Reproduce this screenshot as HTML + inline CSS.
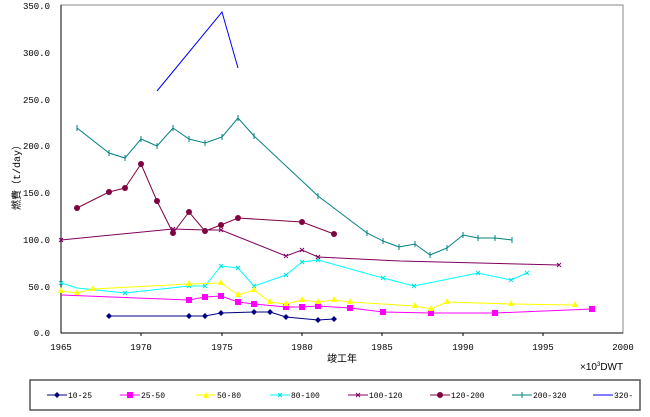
<!DOCTYPE html>
<html><head><meta charset="utf-8"><style>
body{margin:0;background:#fff;}
svg{display:block;font-family:"Liberation Mono","Noto Sans CJK JP",monospace;}
</style></head><body>
<svg width="650" height="417" viewBox="0 0 650 417" xmlns="http://www.w3.org/2000/svg">
<rect x="61" y="5" width="562" height="328" fill="#fff" stroke="#888" stroke-width="1"/>
<line x1="61" y1="5" x2="61" y2="333" stroke="#000"/>
<line x1="61" y1="333" x2="623" y2="333" stroke="#000"/>
<g stroke="#000">
<line x1="141" y1="333" x2="141" y2="336"/><line x1="222" y1="333" x2="222" y2="336"/><line x1="302" y1="333" x2="302" y2="336"/><line x1="382" y1="333" x2="382" y2="336"/><line x1="463" y1="333" x2="463" y2="336"/><line x1="543" y1="333" x2="543" y2="336"/>
</g>
<g font-size="9" text-anchor="end" fill="#000">
<text x="50" y="9">350.0</text><text x="50" y="56">300.0</text><text x="50" y="103">250.0</text><text x="50" y="149">200.0</text><text x="50" y="196">150.0</text><text x="50" y="243">100.0</text><text x="50" y="290">50.0</text><text x="50" y="336">0.0</text>
</g>
<g font-size="9" text-anchor="middle" fill="#000">
<text x="61" y="350">1965</text><text x="141" y="350">1970</text><text x="222" y="350">1975</text><text x="302" y="350">1980</text><text x="382" y="350">1985</text><text x="463" y="350">1990</text><text x="543" y="350">1995</text><text x="623" y="350">2000</text>
<text x="342" y="362" font-size="10">竣工年</text>
</g>
<text x="20" y="175" font-size="10" transform="rotate(-90 20 175)" text-anchor="middle">燃費（t/day）</text>
<text x="580" y="370" font-size="10" font-family="Liberation Sans,sans-serif">×10<tspan font-size="6" dy="-4">3</tspan><tspan dy="4">DWT</tspan></text>
<g fill="none" stroke-width="1">
<polyline stroke="#0000ff" points="157,91 222,12 238,68"/>
<polyline stroke="#008080" points="77,128 109,153 125,158 141,139 157,146 173,128 189,139 205,143 222,137 238,118 254,136 318,196 367,233 383,241 399,247 415,244 430,255 447,248 463,235 478,238 495,238 512,240"/>
<polyline stroke="#800040" points="77,208 109,192 125,188 141,164 157,201 173,233 189,212 205,231 221,225 238,218 302,222 334,234"/>
<polyline stroke="#800060" points="61,240 173,229 205,230 221,230 286,256 302,250 318,257 400,261 559,265"/>
<polyline stroke="#00ffff" points="61,283 77,288 125,293 189,286 205,286 221,266 238,268 254,286 286,275 302,262 318,260 383,278 414,286 478,273 511,280 527,273"/>
<polyline stroke="#ffff00" points="61,291 77,293 93,289 189,284 221,283 238,295 254,290 270,302 286,304 302,300 318,302 334,300 350,302 415,306 431,309 447,302 511,304 575,305"/>
<polyline stroke="#ff00ff" points="61,295 189,300 205,297 221,296 238,302 254,304 286,307 302,307 318,306 350,308 383,312 431,313 495,313 592,309"/>
<polyline stroke="#000080" points="109,316 205,316 221,313 254,312 270,312 286,317 318,320 334,319"/>
</g>
<g stroke="#008080" stroke-width="1">
<path d="M77,125v6M109,150v6M125,155v6M141,136v6M157,143v6M173,125v6M189,136v6M205,140v6M222,134v6M238,115v6M254,133v6M318,193v6M367,230v6M383,238v6M399,244v6M415,241v6M430,252v6M447,245v6M463,232v6M478,235v6M495,235v6M512,237v6"/>
</g>
<g stroke="#00e0e0" stroke-width="1">
<path d="M59,281l4,4M63,281l-4,4 M123,291l4,4M127,291l-4,4 M187,284l4,4M191,284l-4,4 M203,284l4,4M207,284l-4,4 M219,264l4,4M223,264l-4,4 M236,266l4,4M240,266l-4,4 M252,284l4,4M256,284l-4,4 M284,273l4,4M288,273l-4,4 M300,260l4,4M304,260l-4,4 M316,258l4,4M320,258l-4,4 M381,276l4,4M385,276l-4,4 M412,284l4,4M416,284l-4,4 M476,271l4,4M480,271l-4,4 M509,278l4,4M513,278l-4,4 M525,271l4,4M529,271l-4,4"/>
</g>
<g stroke="#800060" stroke-width="1">
<path d="M59,238l4,4M63,238l-4,4 M171,227l4,4M175,227l-4,4 M219,228l4,4M223,228l-4,4 M284,254l4,4M288,254l-4,4 M300,248l4,4M304,248l-4,4 M316,255l4,4M320,255l-4,4 M557,263l4,4M561,263l-4,4"/>
</g>
<g fill="#800040">
<circle cx="77" cy="208" r="3"/><circle cx="109" cy="192" r="3"/><circle cx="125" cy="188" r="3"/><circle cx="141" cy="164" r="3"/><circle cx="157" cy="201" r="3"/><circle cx="173" cy="233" r="3"/><circle cx="189" cy="212" r="3"/><circle cx="205" cy="231" r="3"/><circle cx="221" cy="225" r="3"/><circle cx="238" cy="218" r="3"/><circle cx="302" cy="222" r="3"/><circle cx="334" cy="234" r="3"/>
</g>
<g fill="#ff00ff">
<rect x="186" y="297" width="6" height="6"/><rect x="202" y="294" width="6" height="6"/><rect x="218" y="293" width="6" height="6"/><rect x="235" y="299" width="6" height="6"/><rect x="251" y="301" width="6" height="6"/><rect x="283" y="304" width="6" height="6"/><rect x="299" y="304" width="6" height="6"/><rect x="315" y="303" width="6" height="6"/><rect x="347" y="305" width="6" height="6"/><rect x="380" y="309" width="6" height="6"/><rect x="428" y="310" width="6" height="6"/><rect x="492" y="310" width="6" height="6"/><rect x="589" y="306" width="6" height="6"/>
</g>
<g fill="#ffff00">
<path d="M61,287 l3,6 h-6z M77,289 l3,6 h-6z M93,285 l3,6 h-6z M189,280 l3,6 h-6z M221,279 l3,6 h-6z M238,291 l3,6 h-6z M254,286 l3,6 h-6z M270,298 l3,6 h-6z M286,300 l3,6 h-6z M302,296 l3,6 h-6z M318,298 l3,6 h-6z M334,296 l3,6 h-6z M350,298 l3,6 h-6z M415,302 l3,6 h-6z M431,305 l3,6 h-6z M447,298 l3,6 h-6z M511,300 l3,6 h-6z M575,301 l3,6 h-6z"/>
</g>
<g fill="#000080">
<path d="M109,313 l3,3 l-3,3 l-3,-3z M189,313 l3,3 l-3,3 l-3,-3z M205,313 l3,3 l-3,3 l-3,-3z M221,310 l3,3 l-3,3 l-3,-3z M254,309 l3,3 l-3,3 l-3,-3z M270,309 l3,3 l-3,3 l-3,-3z M286,314 l3,3 l-3,3 l-3,-3z M318,317 l3,3 l-3,3 l-3,-3z M334,316 l3,3 l-3,3 l-3,-3z"/>
</g>
<rect x="30" y="380" width="610" height="30" fill="#fff" stroke="#555" stroke-width="1.5"/>
<g font-size="8" fill="#000">
<line x1="47" y1="395" x2="67" y2="395" stroke="#000080"/><path d="M57,392 l3,3 l-3,3 l-3,-3z" fill="#000080"/><text x="68" y="398">10-25</text>
<line x1="120" y1="395" x2="140" y2="395" stroke="#ff00ff"/><rect x="127" y="392" width="6" height="6" fill="#ff00ff"/><text x="141" y="398">25-50</text>
<line x1="196" y1="395" x2="216" y2="395" stroke="#ffff00"/><path d="M206,392 l3,6 h-6z" fill="#ffff00"/><text x="217" y="398">50-80</text>
<line x1="270" y1="395" x2="290" y2="395" stroke="#00ffff"/><path d="M278,393l4,4M282,393l-4,4" stroke="#00e0e0"/><text x="291" y="398">80-100</text>
<line x1="348" y1="395" x2="368" y2="395" stroke="#800060"/><path d="M356,393l4,4M360,393l-4,4" stroke="#800060"/><text x="369" y="398">100-120</text>
<line x1="430" y1="395" x2="450" y2="395" stroke="#800040"/><circle cx="440" cy="395" r="3" fill="#800040"/><text x="451" y="398">120-200</text>
<line x1="512" y1="395" x2="532" y2="395" stroke="#008080"/><path d="M522,392v6" stroke="#008080"/><text x="533" y="398">200-320</text>
<line x1="593" y1="395" x2="613" y2="395" stroke="#0000ff"/><text x="614" y="398">320-</text>
</g>
</svg>
</body></html>
